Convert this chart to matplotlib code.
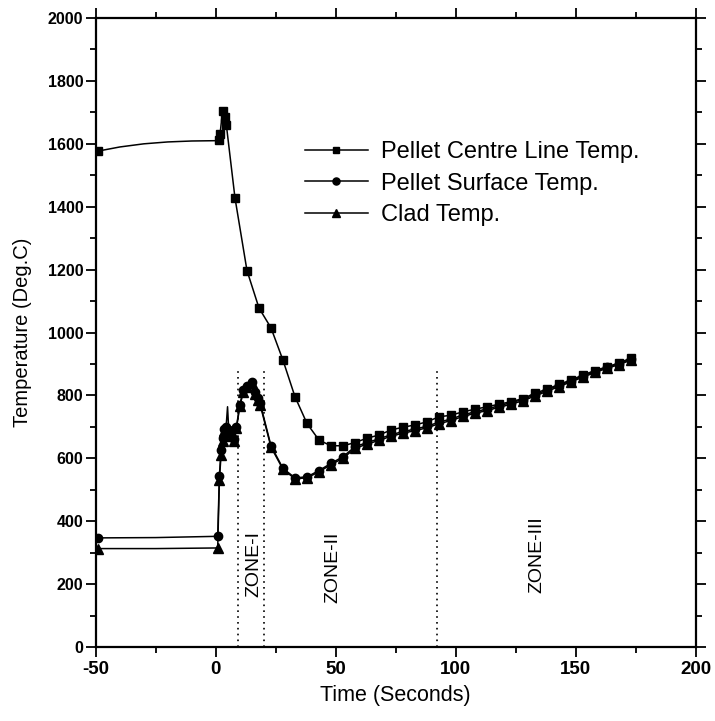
import matplotlib
matplotlib.use("Agg")
import matplotlib.pyplot as plt
from matplotlib.ticker import MultipleLocator

plt.rcParams['font.family'] = ['Liberation Sans', 'DejaVu Sans']
plt.rcParams['axes.unicode_minus'] = False

# pellet centre line temperature (deg C) vs time (s)
centre_t = [-49, -40, -30, -20, -10, 0, 1.3, 1.8, 2.8, 3.7, 4.4,
            8, 13, 18, 23, 28, 33, 38, 43, 48, 53, 58, 63, 68, 73, 78,
            83, 88, 93, 98, 103, 108, 113, 118, 123, 128, 133, 138, 143,
            148, 153, 158, 163, 168, 173]
centre_T = [1577, 1590, 1600, 1606, 1609, 1610, 1612, 1632, 1705, 1686, 1660,
            1428, 1197, 1078, 1015, 912, 796, 711, 658, 640, 640, 650, 664, 674, 690, 699,
            706, 716, 732, 737, 748, 756, 764, 772, 780, 790, 807, 820, 835,
            849, 865, 879, 891, 903, 919]

# pellet surface temperature
surf_t = [-49, -25, 0.8, 1.5, 2.2, 2.8, 3.3, 4.3, 4.9, 5.4, 6.5, 7.5, 8.6,
          10, 11.5, 13, 14.9, 16.5, 17.6, 18.5, 23, 28, 33, 38, 43, 48, 53,
          58, 63, 68, 73, 78, 83, 88, 93, 98, 103, 108, 113, 118, 123, 128,
          133, 138, 143, 148, 153, 158, 163, 168, 173]
surf_T = [347, 348, 352, 545, 625, 665, 692, 700, 764, 690, 680, 662, 700,
          770, 818, 830, 844, 810, 791, 775, 640, 568, 538, 541, 561, 584, 605,
          637, 650, 662, 675, 685, 693, 702, 715, 725, 738, 748, 757, 767, 777, 787,
          802, 817, 832, 846, 862, 876, 889, 901, 915]

# clad temperature
clad_t = [-49, -25, 0.8, 1.5, 2.2, 2.8, 3.3, 4.3, 5.4, 6.5, 7.5, 8.6,
          10, 11.5, 13, 14.9, 16.5, 17.6, 18.5, 23, 28, 33, 38, 43, 48, 53,
          58, 63, 68, 73, 78, 83, 88, 93, 98, 103, 108, 113, 118, 123, 128,
          133, 138, 143, 148, 153, 158, 163, 168, 173]
clad_T = [313, 313, 315, 530, 612, 655, 688, 695, 685, 670, 655, 695,
          765, 812, 826, 840, 805, 785, 770, 636, 565, 535, 538, 557, 580, 600,
          632, 645, 657, 670, 680, 688, 697, 710, 720, 733, 743, 752, 762, 772, 783,
          798, 813, 828, 843, 858, 873, 886, 898, 912]

zone_lines = [9.3, 20.1, 92]
zone_names = ["ZONE-I", "ZONE-II", "ZONE-III"]
zone_pos = [(15.8, 265), (49, 252), (134, 293)]

fig = plt.figure(figsize=(7.15, 7.21), dpi=100)
ax = fig.add_axes([0.134, 0.1026, 0.839, 0.8724])

def marks(ts, skip=()):
    # markers only on the first point and on the transient
    return [0] + [i for i, v in enumerate(ts) if v > 0 and v not in skip]

ax.plot(centre_t, centre_T, color='black', lw=1.1, marker='s', ms=5.5,
        markevery=marks(centre_t), label='Pellet Centre Line Temp.')
ax.plot(surf_t, surf_T, color='black', lw=1.1, marker='o', ms=6,
        markevery=marks(surf_t, skip=(4.9,)), label='Pellet Surface Temp.')
ax.plot(clad_t, clad_T, color='black', lw=1.1, marker='^', ms=6.5,
        markevery=marks(clad_t), label='Clad Temp.')

ax.vlines(zone_lines, 0, 890, colors='black', linestyles=(0, (1, 2.5)), lw=1.2)
for name, (x, y) in zip(zone_names, zone_pos):
    ax.text(x, y, name, rotation=90, ha='center', va='center', fontsize=14)

ax.set_xlim(-50, 200)
ax.set_ylim(0, 2000)
ax.xaxis.set_major_locator(MultipleLocator(50))
ax.xaxis.set_minor_locator(MultipleLocator(25))
ax.yaxis.set_major_locator(MultipleLocator(200))
ax.yaxis.set_minor_locator(MultipleLocator(100))
ax.tick_params(which='both', direction='out', top=True, right=True, width=1.3)
ax.tick_params(which='major', length=7)
ax.tick_params(which='minor', length=4)
ax.tick_params(axis='x', labelsize=13.5, pad=3)
ax.tick_params(axis='y', labelsize=11.5, pad=2)
for lab in ax.get_xticklabels() + ax.get_yticklabels():
    lab.set_fontweight('bold')
for s in ax.spines.values():
    s.set_linewidth(1.6)

ax.set_xlabel('Time (Seconds)', fontsize=15.5, labelpad=5)
ax.set_ylabel('Temperature (Deg.C)', fontsize=14.5, labelpad=11)

ax.legend(loc='upper left', bbox_to_anchor=(0.348, 0.804), frameon=False,
          fontsize=17, handlelength=2.7, handletextpad=0.55,
          borderaxespad=0, borderpad=0, labelspacing=0.4, markerscale=0.85)

fig.savefig('out.png', dpi=100)
